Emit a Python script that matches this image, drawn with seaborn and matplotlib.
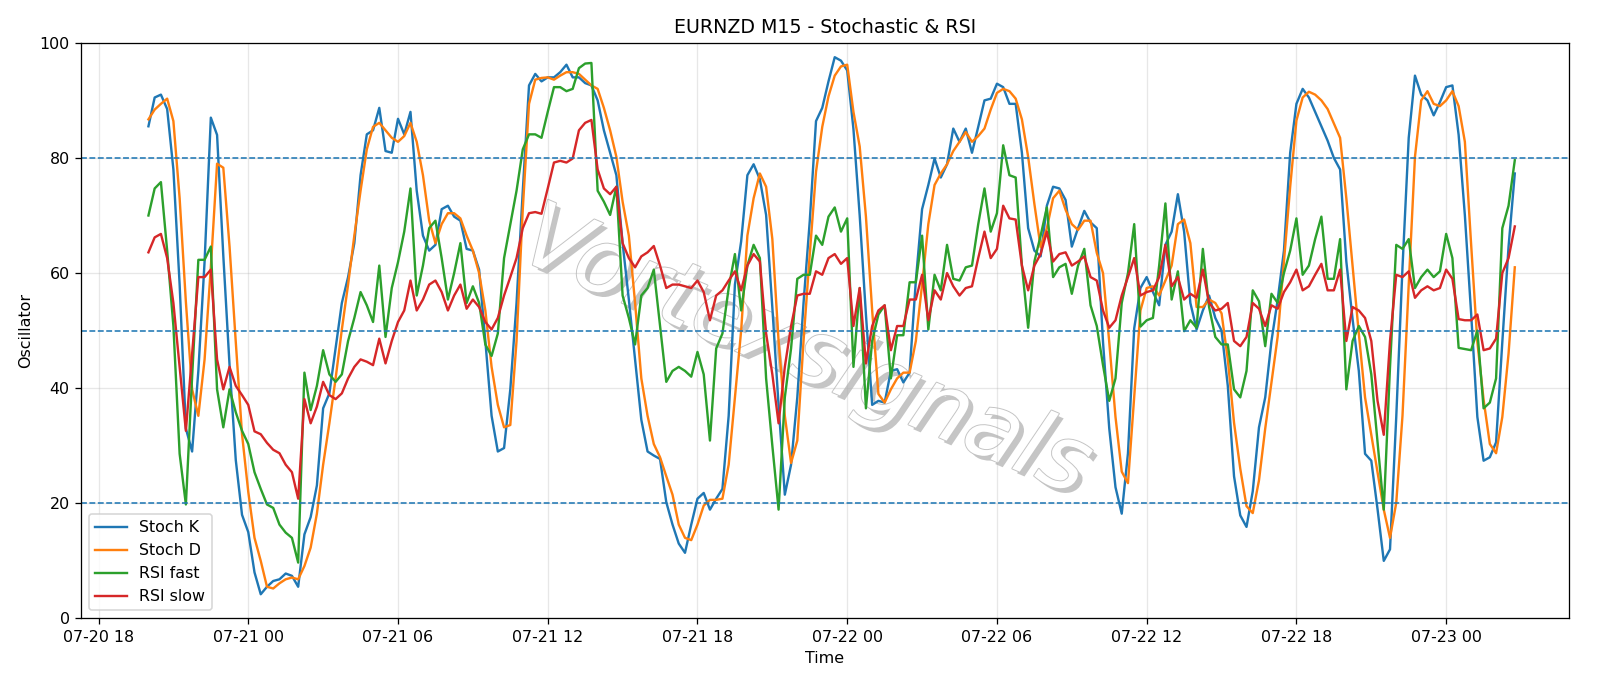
import pandas as pd
import numpy as np
import matplotlib
matplotlib.use("Agg")
import matplotlib.pyplot as plt
import matplotlib.dates as mdates
import matplotlib.patheffects as pe
import seaborn as sns

# Series values (M15 bars from 07-20 20:00)
stoch_k = [85.5, 90.5, 91, 88.5, 78, 58, 33, 29, 43, 62,
           87, 84, 63, 44, 27.5, 18, 15, 8, 4.2, 5.5,
           6.5, 6.8, 7.8, 7.4, 5.5, 14.6, 17.6, 23.1, 36.5, 39.1,
           46.9, 54.8, 59.3, 65.2, 77, 84.1, 84.8, 88.7, 81.2, 80.9,
           86.8, 84.1, 88, 74.3, 66.5, 63.9, 64.9, 71.1, 71.7, 69.8,
           69.1, 64.2, 63.9, 60.6, 48.2, 35.2, 29, 29.6, 39.8, 54.8,
           74.3, 92.6, 94.6, 93.3, 94, 94, 94.9, 96.2, 94, 94,
           93, 92.6, 90, 84.8, 80.9, 77, 65.2, 55.4, 45, 34.5,
           29, 28.3, 27.7, 20.2, 16.3, 13, 11.4, 16.3, 20.8, 21.8,
           18.9, 20.8, 22.5, 35.2, 58, 65.5, 77, 78.9, 76.3, 70.1,
           54, 37, 21.5, 26.7, 38.4, 54.8, 69.1, 86.4, 88.7, 93.3,
           97.5, 96.9, 95.2, 85, 70, 52.8, 37.1, 37.8, 37.5, 43,
           43.3, 41, 42.7, 58.7, 71.1, 75.3, 79.9, 76.6, 78.9, 85.1,
           82.8, 85.1, 80.9, 85.4, 90, 90.3, 92.9, 92.3, 89.4, 89.4,
           80.9, 67.8, 63.9, 62.9, 71.7, 75, 74.7, 72.7, 64.6, 67.8,
           70.8, 68.8, 67.8, 48, 33, 22.8, 18.2, 28.7, 50.4, 57.4,
           59.3, 56.7, 54.4, 64.9, 67.2, 73.7, 67.2, 54.8, 50.2, 53.5,
           56.1, 52.2, 50, 40.4, 24.7, 17.9, 15.9, 22.1, 33.2, 38.4,
           48.2, 55.4, 63.9, 80.9, 89.4, 92, 90.5, 88, 85.5, 83,
           80, 78, 62, 52, 43, 28.6, 27.4, 19, 10, 12,
           35, 61, 83.5, 94.3, 91, 90, 87.4, 89.7, 92.3, 92.6,
           84, 70, 53, 35, 27.4, 28, 30.6, 48, 64.6, 77.3]

stoch_d = [86.7, 88.4, 89.4, 90.3, 86.4, 73, 55, 39.8, 35.2, 45,
           61, 79, 78.3, 64.6, 48, 32, 22, 14, 10, 5.5,
           5.2, 6.1, 6.8, 7.1, 6.8, 9.1, 12.3, 18.2, 26.7, 33.9,
           41.7, 50.2, 58, 66.5, 74.3, 81.5, 85.4, 86.1, 84.8, 83.5,
           82.8, 83.8, 86.1, 82.8, 77, 69.1, 65.2, 68.5, 70.4, 70.4,
           69.5, 66.5, 63.9, 60, 53.5, 43.7, 37.1, 33.2, 33.6, 48.2,
           71.1, 89.4, 93.6, 93.9, 94, 93.6, 94.3, 94.9, 94.9, 94.6,
           93.6, 92.6, 92, 88.7, 84.8, 80.2, 72.4, 66.5, 54.8, 41.7,
           35.2, 30.3, 28, 24.7, 21.5, 16.3, 14, 13.6, 16.3, 19.6,
           20.6, 20.6, 20.8, 26.7, 38.4, 50, 66.5, 73, 77.3, 75,
           65.9, 48.2, 35.2, 27, 30.9, 48.2, 63.3, 77.6, 85.4, 90.7,
           94.3, 95.9, 96.2, 88, 82, 69.8, 53.5, 39, 37.5, 39.8,
           41.7, 42.7, 42.7, 48.2, 58, 68.5, 75.3, 77.3, 78.9, 81.2,
           82.8, 84.5, 82.8, 83.8, 85.1, 88.4, 91.3, 92, 91.6, 90.3,
           86.7, 80.2, 72, 64.5, 67.8, 73, 74.3, 71, 68.5, 67.5,
           69.1, 69.1, 63.5, 60, 48, 35, 25.5, 23.5, 38.4, 53.5,
           57.4, 57.7, 56.1, 58.7, 61.3, 68.5, 69.3, 65.2, 54.1, 54.1,
           55.4, 54.8, 53, 45, 34, 26, 19.5, 18.3, 24, 33,
           41, 49, 62, 75, 86.5, 90.5, 91.5, 91, 90, 88.5,
           86, 83.5, 73, 61.3, 49.5, 38.4, 31.9, 25.4, 18.9, 14,
           20.1, 35.2, 58, 80.2, 90, 91.6, 89.4, 89, 90, 91.6,
           89, 82.8, 65, 48, 38, 30.3, 28.7, 35, 46, 61]

rsi_fast = [70, 74.7, 75.8, 63.9, 50.8, 28.6, 19.8, 42, 62.3, 62.3,
            64.6, 39.8, 33.2, 39.8, 35.8, 32.6, 30.3, 25.4, 22.5, 19.8,
            19.2, 16.3, 14.9, 14, 9.7, 42.7, 36.2, 40.4, 46.6, 42.4,
            41.1, 42.4, 48.2, 52.2, 56.7, 54.4, 51.5, 61.3, 48.9, 57.4,
            61.9, 67.2, 74.7, 56.1, 61.3, 67.8, 69.1, 62.6, 55.4, 60,
            65.2, 54.8, 57.7, 54.8, 47.6, 45.6, 49.5, 62.6, 68.5, 74.3,
            81.5, 84.1, 84.1, 83.5, 88, 92.3, 92.3, 91.6, 92, 95.6,
            96.4, 96.5, 74.3, 72.4, 70.1, 75, 56.1, 52.2, 47.6, 56.1,
            57.4, 60.6, 50.8, 41.1, 43, 43.7, 43, 42, 46.3, 42.4,
            30.9, 46.9, 49.5, 57.4, 63.3, 53.5, 61.3, 64.9, 62.6, 41.7,
            30, 18.9, 38.4, 46.9, 59, 59.7, 59.7, 66.5, 64.9, 69.8,
            71.4, 67.2, 69.5, 43.7, 57.4, 36.5, 48.2, 52.8, 54.4, 41.7,
            49.2, 49.2, 58.4, 58.4, 66.5, 50.2, 59.7, 57, 64.9, 59,
            58.7, 61, 61.3, 68.5, 74.7, 67.2, 70.4, 82.2, 77, 76.6,
            61.3, 50.5, 62, 66.5, 71.4, 59.3, 61, 61.6, 56.4, 61.3,
            64.2, 54.4, 50.8, 44, 37.8, 41.7, 54.8, 60, 68.5, 50.7,
            51.8, 52.2, 61.3, 72.1, 55.4, 60.3, 49.9, 51.8, 50.5, 64.2,
            54.1, 48.9, 47.6, 47.6, 39.8, 38.4, 43, 57, 55.1, 47.3,
            56.4, 54.8, 60, 63.9, 69.5, 59.7, 61.3, 65.9, 69.8, 59,
            59, 65.9, 39.8, 48.2, 50.8, 48.9, 42.4, 30.6, 18.9, 43.7,
            64.9, 64.2, 65.9, 57.4, 59.3, 60.6, 59.3, 60.3, 66.8, 62.6,
            47, 46.8, 46.6, 50, 36.5, 37.5, 41.7, 67.8, 71.7, 79.6]

rsi_slow = [63.6, 66.2, 66.8, 62.6, 54.8, 43.7, 32.6, 46, 59.3, 59.3,
            60.6, 45, 39.8, 43.7, 40.4, 38.8, 37.1, 32.5, 32, 30.5,
            29.3, 28.7, 26.7, 25.4, 20.8, 38.1, 33.9, 36.8, 41.1, 38.8,
            38.1, 39.1, 41.7, 43.7, 45, 44.6, 44, 48.6, 44.3, 48.2,
            51.5, 53.5, 58.7, 53.5, 55.4, 58, 58.7, 56.7, 53.5, 56.1,
            58, 53.8, 55.4, 54.1, 51.5, 50.2, 52.2, 56.1, 59.3, 62.6,
            67.8, 70.4, 70.6, 70.3, 74.7, 79.2, 79.5, 79.2, 79.9, 84.8,
            86.1, 86.6, 78, 74.7, 73.7, 75, 65.2, 62.6, 61, 62.9,
            63.6, 64.7, 61.3, 57.4, 58, 58, 57.7, 57.4, 58.7, 56.7,
            51.8, 56.1, 57, 58.7, 60.3, 57, 61.3, 63.3, 62, 49.5,
            42.4, 33.9, 43.7, 50.8, 56.1, 56.4, 56.4, 60.3, 59.7, 62.6,
            63.3, 61.6, 62.6, 50.8, 57.4, 44.3, 50.8, 53.5, 54.4, 46.6,
            50.8, 50.8, 55.4, 55.4, 59.7, 51.8, 57, 55.4, 60, 57.7,
            56.1, 57.4, 57.7, 62.6, 67.2, 62.6, 64.2, 71.7, 69.5, 69.3,
            61.3, 57, 61.3, 63.3, 67.2, 62, 63.3, 63.6, 61.3, 62,
            62.9, 59.3, 58.7, 53.5, 50.5, 51.8, 56.1, 59.3, 62.6, 56.1,
            56.7, 57, 59.3, 64.9, 57.7, 59.3, 55.4, 56.4, 55.7, 60.6,
            54.8, 53.5, 53.8, 54.8, 48.2, 47.3, 48.9, 54.8, 53.8, 50.8,
            54.4, 53.8, 56.7, 58.4, 60.6, 57, 57.7, 59.7, 61.6, 57,
            57, 60.6, 48.2, 54.1, 53.5, 52.2, 48.2, 37.8, 31.9, 48.2,
            59.7, 59.3, 60.3, 55.7, 57, 57.7, 57, 57.4, 60.6, 59,
            52, 51.8, 51.8, 52.8, 46.6, 46.9, 48.6, 60, 62.6, 68.1]

series_names = ["Stoch K", "Stoch D", "RSI fast", "RSI slow"]
levels = [80, 50, 20]

times = pd.date_range("2020-07-20 20:00", periods=len(stoch_k), freq="15min")

df = pd.DataFrame({"Time": times, "Stoch K": stoch_k, "Stoch D": stoch_d,
                   "RSI fast": rsi_fast, "RSI slow": rsi_slow})
long_df = df.melt(id_vars="Time", var_name="Series", value_name="Value")

# 14x6 in at ~114 dpi -> 1600x686 px
fig = plt.figure(figsize=(14, 6.003), dpi=1600 / 14)
ax = fig.add_axes([0.0504, 0.0985, 0.9304, 0.839])

palette = dict(zip(series_names, ["tab:blue", "tab:orange", "tab:green", "tab:red"]))
sns.lineplot(data=long_df, x="Time", y="Value", hue="Series", hue_order=series_names,
             palette=palette, linewidth=1.5, ax=ax)

for lv in levels:
    ax.axhline(lv, color="tab:blue", linestyle="--", linewidth=1.0)

ax.set_ylim(0, 100)
ax.set_xlim(pd.Timestamp("2020-07-20 17:17"), pd.Timestamp("2020-07-23 04:56"))
ax.xaxis.set_major_locator(mdates.HourLocator(byhour=[0, 6, 12, 18]))
ax.xaxis.set_major_formatter(mdates.DateFormatter("%m-%d %H"))
ax.grid(True, alpha=0.3)

ax.set_title("EURNZD M15 - Stochastic & RSI", fontsize=12)
ax.set_xlabel("Time")
ax.set_ylabel("Oscillator")
ax.legend(loc="lower left", title=None)

# watermark
ax.text(0.487, 0.46, "Vortexsignals", transform=ax.transAxes, fontsize=57,
        rotation=-23, ha="center", va="center", color="white", style="italic",
        path_effects=[pe.withSimplePatchShadow(offset=(3, -3), shadow_rgbFace="gray", alpha=0.45),
                      pe.Stroke(linewidth=1.2, foreground="#c4c4c4"), pe.Normal()],
        zorder=0.5)

fig.savefig("out.png", dpi=1600 / 14)
